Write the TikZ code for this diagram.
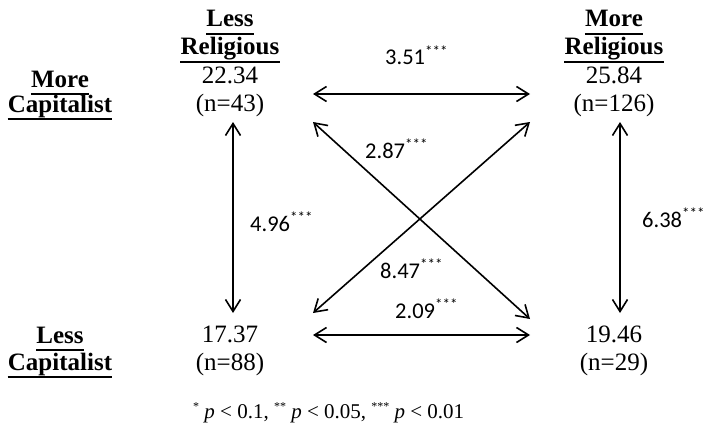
\documentclass[tikz,border=0pt]{standalone}
\usepackage{fontspec}
\setmainfont{Liberation Serif}
\newfontfamily\labfont{Carlito}
\usetikzlibrary{arrows.meta}
\newcommand{\lstars}{{\fontsize{15}{15}\selectfont\raisebox{9pt}{***}}}
\newcommand{\fstar}[1]{{\fontsize{12}{12}\selectfont\raisebox{8pt}{#1}}}
\begin{document}
\begin{tikzpicture}[x=1pt,y=-1pt,
  hdr/.style={font=\fontsize{25}{28}\selectfont\bfseries, inner sep=0pt, anchor=base},
  cell/.style={font=\fontsize{25}{28}\selectfont, inner sep=0pt, anchor=base},
  ulline/.style={line width=2.6pt},
  dbl/.style={line width=1.6pt, {Straight Barb[length=12pt,width=15pt]}-{Straight Barb[length=12pt,width=15pt]}},
  lab/.style={font=\labfont\fontsize{22.5}{26}\selectfont, inner sep=0pt, anchor=base west},
  note/.style={font=\fontsize{21}{24}\selectfont, inner sep=0pt, anchor=base west}
]
\useasboundingbox (0,0) rectangle (704,428);
% column headers
\node[hdr] (hLess) at (230,27) {Less};
\node[hdr] (hRelL) at (230,55) {Religious};
\node[hdr] (hMore) at (614,27) {More};
\node[hdr] (hRelR) at (614,55) {Religious};
% row headers
\node[hdr] (rMore) at (60,87) {More};
\node[hdr] (rCapT) at (60,112) {Capitalist};
\node[hdr] (rLess) at (60,343) {Less};
\node[hdr] (rCapB) at (60,370) {Capitalist};
% underlines
\foreach \n in {hLess,hRelL,hMore,hRelR,rMore,rCapT,rLess,rCapB}
  \draw[ulline] ([yshift=-7pt]\n.base west) -- ([yshift=-7pt]\n.base east);
% cells
\node[cell] (A) at (230,84) {22.34};
\node[cell] (An) at (230,111) {(n=43)};
\node[cell] (B) at (614,84) {25.84};
\node[cell] (Bn) at (614,111) {(n=126)};
\node[cell] (C) at (230,342) {17.37};
\node[cell] (Cn) at (230,370) {(n=88)};
\node[cell] (D) at (614,342) {19.46};
\node[cell] (Dn) at (614,370) {(n=29)};
% arrow ends
\coordinate (ABa) at (313,94);  \coordinate (ABb) at (530,94);
\coordinate (ADa) at (313,122); \coordinate (ADb) at (530,319);
\coordinate (CBa) at (313,313); \coordinate (CBb) at (530,122);
\coordinate (CDa) at (313,335); \coordinate (CDb) at (530,335);
\coordinate (ACa) at (233,122); \coordinate (ACb) at (233,313);
\coordinate (BDa) at (620,122); \coordinate (BDb) at (620,313);
\draw[dbl] (ABa) -- (ABb);
\draw[dbl] (ADa) -- (ADb);
\draw[dbl] (CBa) -- (CBb);
\draw[dbl] (CDa) -- (CDb);
\draw[dbl] (ACa) -- (ACb);
\draw[dbl] (BDa) -- (BDb);
% labels
\node[lab] (lAB) at (385,65) {3.51\lstars};
\node[lab] (lAD) at (365,158) {2.87\lstars};
\node[lab] (lAC) at (250,231) {4.96\lstars};
\node[lab] (lBD) at (642,227) {6.38\lstars};
\node[lab] (lCB) at (380,278) {8.47\lstars};
\node[lab] (lCD) at (395,318) {2.09\lstars};
% footnote
\node[note] (fn) at (193,418) {\fstar{*} \textit{p} < 0.1, \fstar{**} \textit{p} < 0.05, \fstar{***} \textit{p} < 0.01};
\end{tikzpicture}
\end{document}
